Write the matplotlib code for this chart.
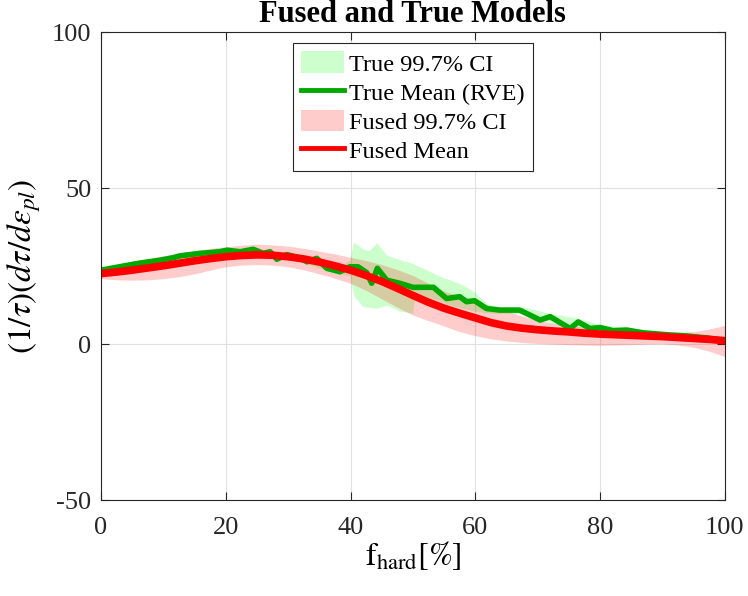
import numpy as np
import matplotlib
matplotlib.use("Agg")
import matplotlib.pyplot as plt

# datos
true_x = [0, 3, 6, 9.5, 11.6, 12.7, 16, 19, 20.2, 22.3, 24.4, 26, 27.1, 28.2, 29.8,
          31.9, 33, 34.6, 36.2, 38.3, 39.9, 41.2, 42.6, 43.4, 44.3, 45.8, 47.9, 50,
          53.3, 55.4, 57.5, 58.6, 59.9, 61.8, 63.9, 65.5, 67.1, 70.4, 72, 75.2, 76.5,
          78.4, 80, 82.1, 84.3, 86.9, 90.7, 93.9, 97, 100]
true_mean = [23.7, 24.8, 25.9, 26.9, 27.7, 28.3, 29.1, 29.6, 30.1, 29.6, 30.4, 29.1,
             29.6, 27.2, 28.7, 27.6, 26.4, 27.5, 24.3, 23.2, 24.8, 24.8, 22.9, 19.5,
             24.3, 20.5, 19.5, 18.2, 18.2, 14.6, 15.2, 13.6, 13.9, 11.4, 10.9, 10.9,
             10.9, 7.7, 8.8, 5.0, 7.1, 5.0, 5.3, 4.3, 4.5, 3.6, 3.0, 2.6, 2.0, 1.2]

true_ci_x = [0, 10, 20, 30, 38, 39.9, 40.5, 42, 43, 44.2, 45.8, 48, 50, 50.3, 52, 54,
             56, 58, 60, 61.8, 64, 68, 72, 76, 80, 85, 90, 95, 100]
true_hi = [24.5, 27.8, 31, 29.5, 24.5, 27, 32.8, 30.5, 30, 32.5, 28.5, 27, 25.9, 25.5,
           24, 22, 20.5, 19, 16.5, 13, 12, 11.8, 9.8, 8.5, 6.3, 5.2, 4, 3, 2]
true_lo = [23, 26, 29, 27.5, 22.5, 22, 15.5, 12, 11.8, 11.5, 12.5, 10.5, 10, 16, 15,
           14, 12.5, 11.5, 10.5, 10, 9.8, 9.8, 7, 4.5, 4.5, 3.5, 2.3, 1.8, 0.5]

fused_x = [0, 2.5, 5, 7.5, 10, 12.5, 15, 17.5, 20, 22.5, 25, 27.5, 30, 32.5, 35, 37.5,
           40, 42.5, 45, 47.5, 50, 52.5, 55, 57.5, 60, 62.5, 65, 67.5, 70, 72.5, 75,
           77.5, 80, 82.5, 85, 87.5, 90, 92.5, 95, 97.5, 100]
fused_mean = [22.6, 23.1, 23.7, 24.4, 25.1, 25.9, 26.7, 27.4, 28.0, 28.4, 28.6, 28.5,
              28.0, 27.3, 26.3, 25.1, 23.7, 22.0, 20.1, 17.9, 15.6, 13.4, 11.5, 9.9,
              8.4, 6.9, 5.8, 5.1, 4.6, 4.2, 3.9, 3.5, 3.2, 3.0, 2.8, 2.6, 2.4, 2.1,
              1.8, 1.5, 1.1]
fused_hi = [24.3, 25.5, 26.5, 27.4, 28.3, 29.2, 30.0, 30.7, 31.2, 31.7, 32.0, 31.8,
            31.4, 30.7, 29.8, 28.9, 27.8, 26.8, 25.5, 23.9, 22.0, 19.5, 17.0, 15.3,
            13.8, 12.2, 10.6, 9.0, 7.6, 6.7, 6.0, 5.4, 5.0, 4.6, 4.3, 4.0, 3.8, 3.8,
            4.0, 4.8, 6.0]
fused_lo = [21.0, 20.6, 20.5, 20.6, 21.0, 21.6, 22.5, 23.7, 24.8, 25.3, 25.5, 25.3,
            24.8, 23.8, 22.5, 21.1, 19.5, 17.2, 14.5, 11.8, 9.3, 7.5, 5.8, 4.0, 2.7,
            1.7, 1.0, 0.5, 0.2, 0.0, -0.2, -0.3, -0.4, -0.3, -0.2, 0.0, 0.1, -0.3,
            -1.0, -2.3, -4.0]

plt.rcParams['font.family'] = ['Liberation Serif', 'DejaVu Serif']
plt.rcParams['mathtext.fontset'] = 'stix'
plt.rcParams['axes.unicode_minus'] = False

fig = plt.figure(figsize=(7.48, 5.96), dpi=100)
ax = fig.add_axes([0.135, 0.161, 0.834, 0.785])

ax.fill_between(true_ci_x, true_lo, true_hi, color=(0, 1, 0), alpha=0.2,
                linewidth=0, label='True 99.7% CI')
ax.plot(true_x, true_mean, color=(0, 0.66, 0), linewidth=4, label='True Mean (RVE)')
ax.fill_between(fused_x, fused_lo, fused_hi, color=(1, 0, 0), alpha=0.2,
                linewidth=0, label='Fused 99.7% CI')
ax.plot(fused_x, fused_mean, color=(1, 0, 0), linewidth=5.5, label='Fused Mean')

ax.set_xlim(0, 100)
ax.set_ylim(-50, 100)
ax.set_xticks(np.arange(0, 101, 20))
ax.set_yticks([-50, 0, 50, 100])
ax.grid(True, color='0.88', linewidth=0.8)
ax.set_axisbelow(True)
ax.tick_params(direction='in', length=6, width=0.8, labelsize=19, pad=7,
               top=True, right=True, colors='0.15')
ax.tick_params(axis='x', pad=12)
for s in ax.spines.values():
    s.set_color('0.15')
    s.set_linewidth(0.8)

ax.set_title('Fused and True Models', fontsize=22, fontweight='bold', pad=7)
ax.set_xlabel(r'$\mathrm{f}_{\mathrm{hard}}[\%]$', fontsize=23, labelpad=0)
ax.set_ylabel(r'$(1/\tau)(d\tau/d\varepsilon_{pl})$', fontsize=24, labelpad=6)

leg = ax.legend(loc='upper center', bbox_to_anchor=(0.5, 0.977), borderaxespad=0,
                fontsize=17.5, fancybox=False, framealpha=1, edgecolor='0.15',
                handlelength=1.75, handleheight=1.0, handletextpad=0.2,
                labelspacing=0.2, borderpad=0.35)
leg.get_frame().set_linewidth(0.8)
for ln in leg.get_lines():
    ln.set_linewidth(3.5)

fig.savefig('out.png', dpi=100)
